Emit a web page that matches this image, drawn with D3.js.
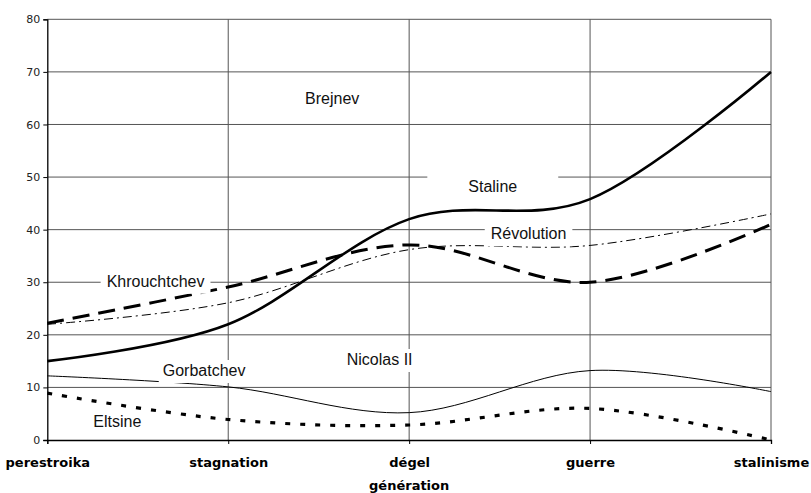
<!DOCTYPE html>
<html>
<head>
<meta charset="utf-8">
<script src="https://cdn.jsdelivr.net/npm/d3@7"></script>
<style>
  html, body { margin: 0; padding: 0; background: #fff; }
  svg { display: block; }
</style>
</head>
<body>
<svg id="chart" width="811" height="493"></svg>
<script>
// ---- data ----
const categories = ["perestroika", "stagnation", "dégel", "guerre", "stalinisme"];
const yTicks = [0, 10, 20, 30, 40, 50, 60, 70, 80];
const xTitle = "génération";

const staline      = [15, 22, 42, 45.8, 70];
const khrouchtchev = [22.2, 29.1, 37.1, 30, 41];
const revolution   = [22, 26.1, 36.2, 37, 43];
const gorbatchev   = [12.2, 10.1, 5.2, 13.2, 9.2];
const eltsine      = [8.9, 3.9, 2.85, 6, 0];

// in-chart annotation names
const annotationNames = ["Brejnev", "Staline", "Révolution", "Khrouchtchev", "Gorbatchev", "Nicolas II", "Eltsine"];
// annotation anchors in data space: [category index, value]
const annotationAnchors = [[1.425, 63.9], [2.327, 47.2], [2.451, 38.18], [0.328, 29.15], [0.638, 12.17], [1.655, 14.26], [0.254, 2.53]];
const annotationPad = [6, 41, 6, 6, 4, 4, 4];

// ---- layout ----
const mLeft = 47.3, mRight = 771, mTop = 19.3, mBottom = 440;
const svg = d3.select("#chart");

const x = d3.scalePoint().domain(categories).range([mLeft, mRight]).padding(0);
const xi = d3.scaleLinear().domain([0, categories.length - 1]).range([mLeft, mRight]);
const y = d3.scaleLinear().domain([0, 80]).range([mBottom, mTop]);

// gridlines
const grid = svg.append("g");
grid.selectAll("line.h").data(yTicks.filter(d => d > 0)).join("line")
  .attr("class", "h")
  .attr("x1", mLeft).attr("x2", mRight)
  .attr("y1", d => y(d)).attr("y2", d => y(d))
  .attr("stroke", "#555").attr("stroke-width", 1);
grid.selectAll("line.v").data(categories.slice(1)).join("line")
  .attr("class", "v")
  .attr("x1", d => x(d)).attr("x2", d => x(d))
  .attr("y1", mTop).attr("y2", mBottom)
  .attr("stroke", "#555").attr("stroke-width", 1);

// axes
const yAxis = d3.axisLeft(y).tickValues(yTicks).tickSize(4).tickPadding(3).tickFormat(d3.format("d"));
const gy = svg.append("g").attr("transform", `translate(${mLeft},0)`).call(yAxis);
gy.select(".domain").attr("stroke", "#000").attr("stroke-width", 1.3);
gy.selectAll(".tick line").attr("stroke", "#000");
gy.selectAll(".tick text").attr("font-family", "DejaVu Sans, sans-serif").attr("font-size", 11).attr("fill", "#222");

const xAxis = d3.axisBottom(x).tickSize(4).tickPadding(14);
const gx = svg.append("g").attr("transform", `translate(0,${mBottom})`).call(xAxis);
gx.select(".domain").attr("stroke", "#000").attr("stroke-width", 1.3);
gx.selectAll(".tick line").attr("stroke", "#000");
gx.selectAll(".tick text").attr("font-family", "DejaVu Sans, sans-serif").attr("font-weight", "bold")
  .attr("font-size", 13).attr("fill", "#000");

svg.append("text").attr("x", (mLeft + mRight) / 2).attr("y", 490)
  .attr("text-anchor", "middle").attr("font-family", "DejaVu Sans, sans-serif")
  .attr("font-weight", "bold").attr("font-size", 13).text(xTitle);

// series
const series = [
  { values: gorbatchev, width: 1, dash: null },
  { values: revolution, width: 1, dash: "9,4,2,4" },
  { values: eltsine, width: 3.2, dash: "5,10" },
  { values: khrouchtchev, width: 3, dash: "17,9" },
  { values: staline, width: 2.6, dash: null }
];
const line = d3.line()
  .x((d, i) => x(categories[i]))
  .y(d => y(d))
  .curve(d3.curveCardinal.tension(0));

svg.append("g").selectAll("path").data(series).join("path")
  .attr("d", s => line(s.values))
  .attr("fill", "none")
  .attr("stroke", "#000")
  .attr("stroke-width", s => s.width)
  .attr("stroke-dasharray", s => s.dash)
  .attr("stroke-linejoin", "round");

// annotations with white boxes
const ann = svg.append("g");
annotationNames.forEach((name, i) => {
  const ax = xi(annotationAnchors[i][0]);
  const ay = y(annotationAnchors[i][1]);
  const g = ann.append("g");
  const rect = g.append("rect").attr("fill", "#fff");
  const t = g.append("text").attr("x", ax).attr("y", ay)
    .attr("font-family", "Liberation Sans, Arial, sans-serif").attr("font-size", 16)
    .attr("fill", "#111").text(name);
  const w = t.node().getComputedTextLength();
  const p = annotationPad[i];
  rect.attr("x", ax - p).attr("y", ay - 16).attr("width", w + 2 * p).attr("height", 23);
});
</script>
</body>
</html>
